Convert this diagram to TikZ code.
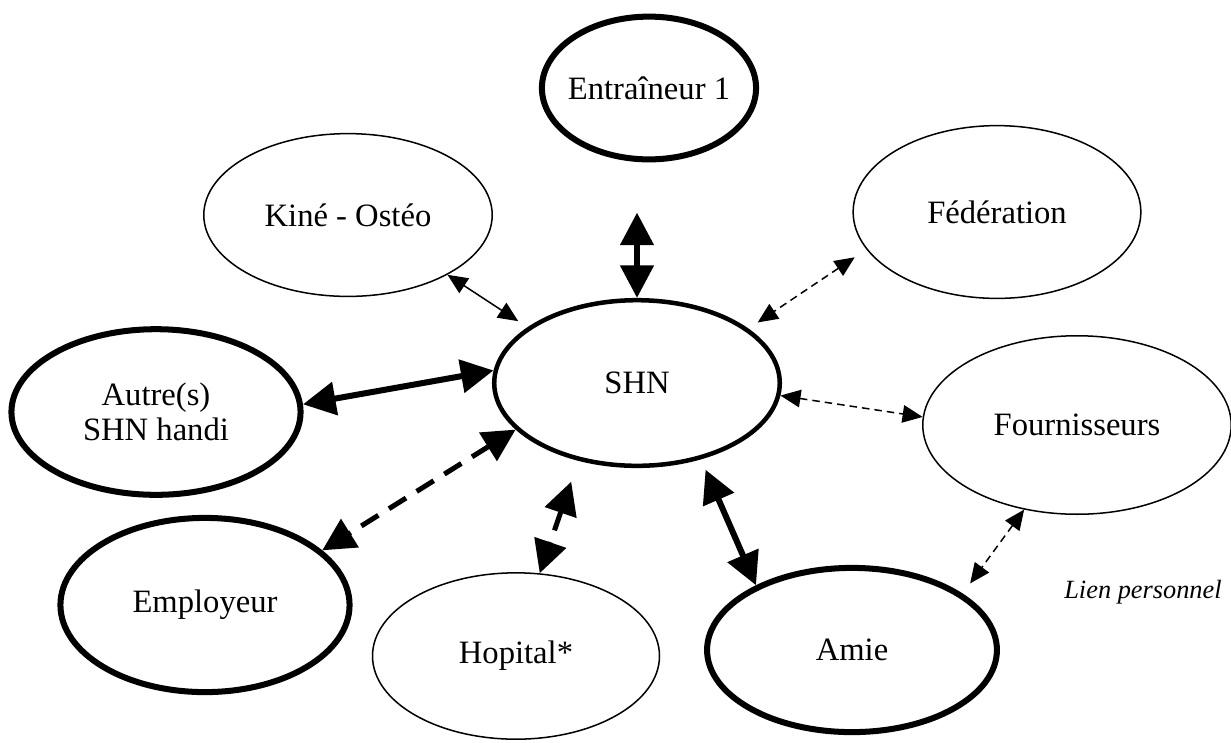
\documentclass[tikz,border=0pt]{standalone}
\usepackage{fontspec}
\setmainfont{Liberation Serif}
\usepackage{tikz}
\usetikzlibrary{shapes.geometric,arrows.meta}
\tikzstyle{strong} = [ellipse, draw, line width=2.4pt, text centered, inner sep=1pt]
\tikzstyle{core} = [ellipse, draw, line width=1.8pt, text centered, inner sep=1pt]
\tikzstyle{light} = [ellipse, draw, line width=0.6pt, text centered, inner sep=1pt]
\tikzstyle{biglink} = [{Triangle[length=13pt,width=13pt]}-{Triangle[length=13pt,width=13pt]}, line width=2.4pt]
\tikzstyle{biglinkd} = [biglink, line width=2pt, dash pattern=on 8pt off 5pt]
\tikzstyle{link} = [{Triangle[length=8pt,width=7pt]}-{Triangle[length=8pt,width=7pt]}, line width=0.6pt]
\tikzstyle{linkd} = [link, dash pattern=on 3pt off 2pt]

\begin{document}
\begin{tikzpicture}[x=0.014cm, y=-0.014cm, font=\fontsize{13}{14}\selectfont]
    \useasboundingbox (0,0) rectangle (1231,742);
    % partners around the athlete
    \node[core, minimum width=4cm, minimum height=2.32cm] (shn) at (637,383) {SHN};
    \node[strong, minimum width=3cm, minimum height=2cm, inner xsep=-4pt] (ent) at (649,88) {Entraîneur 1};
    \node[light, minimum width=4.04cm, minimum height=2.28cm] (kine) at (348,215) {Kiné - Ostéo};
    \node[light, minimum width=4.03cm, minimum height=2.42cm] (fed) at (997,212) {Fédération};
    \node[strong, minimum width=4.05cm, minimum height=2.32cm, align=center] (autre) at (156,412) {Autre(s)\\SHN handi};
    \node[light, minimum width=4.32cm, minimum height=2.5cm] (four) at (1077,425) {Fournisseurs};
    \node[strong, minimum width=4.05cm, minimum height=2.44cm] (emp) at (205,605) {Employeur};
    \node[light, minimum width=4.02cm, minimum height=2.33cm] (hop) at (516,656) {Hopital*};
    \node[strong, minimum width=4.06cm, minimum height=2.3cm] (amie) at (852,650) {Amie};
    \node[font=\fontsize{10.5}{12}\selectfont\itshape] (lien) at (1143,592) {Lien personnel};

    % links
    \draw[biglink, shorten <=20pt] (shn.north |- ent.south) -- (shn.north);
    \draw[link, shorten >=4.4pt] (kine.-31.7) -- (shn.153.4);
    \draw[linkd, shorten <=5.6pt, shorten >=4.4pt] (fed.-164) -- (shn.26.6);
    \draw[linkd] (shn.-5.9) -- (four.177.8);
    \draw[biglink] (autre.3.9) -- (shn.175.7);
    \draw[biglinkd] (shn.-159.2) -- (emp.25.4);
    \draw[biglinkd, shorten <=8.8pt] (shn.-127.9) -- (hop.74);
    \draw[biglink, shorten <=4.5pt] (shn.-50.1) -- (amie.146.4);
    \draw[linkd, shorten >=5pt] (four.-122) -- (amie.27.7);
\end{tikzpicture}
\end{document}
